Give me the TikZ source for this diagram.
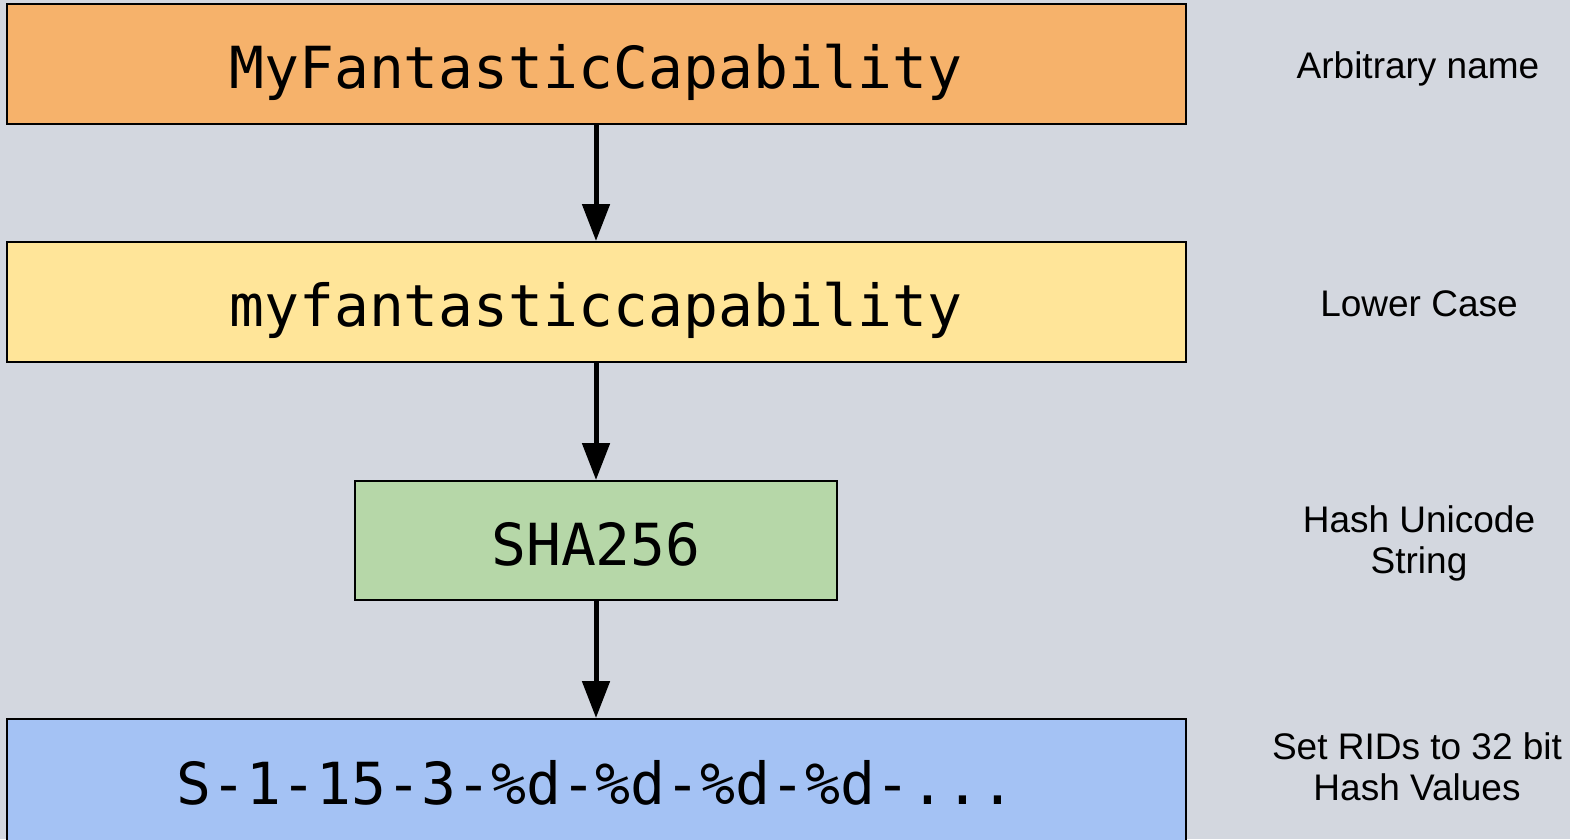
\documentclass[tikz,border=0pt]{standalone}
\usepackage{fontspec}
\setmainfont{Liberation Sans}
\newfontfamily\monofnt{DejaVu Sans Mono}
\usetikzlibrary{arrows.meta}
\definecolor{bgc}{RGB}{211,215,223}
\definecolor{orangec}{HTML}{F6B26B}
\definecolor{yellowc}{HTML}{FFE599}
\definecolor{greenc}{HTML}{B6D7A8}
\definecolor{bluec}{HTML}{A4C2F4}
\tikzset{
  box/.style={draw=black, line width=2pt, rectangle, inner sep=0pt,
    text height=49pt, text depth=0pt, font=\monofnt\fontsize{58}{58}\selectfont},
  lbl/.style={align=center, inner sep=0pt, anchor=base,
    font=\fontsize{37}{41}\selectfont},
  flow/.style={line width=5pt, -{Triangle[length=37pt,width=27pt]}}
}
\begin{document}
\begin{tikzpicture}[x=1pt,y=-1pt]
\useasboundingbox (0,0) rectangle (1570,839);
\clip (0,0) rectangle (1570,839);
\fill[bgc] (0,0) rectangle (1570,839);
\node[box, fill=orangec, minimum width=1179pt, minimum height=120pt] (n1) at (596,64) {MyFantasticCapability};
\node[box, fill=yellowc, minimum width=1179pt, minimum height=120pt] (n2) at (596,302) {myfantasticcapability};
\node[box, fill=greenc, minimum width=482pt, minimum height=119pt] (n3) at (596,540.5) {SHA256};
\node[box, fill=bluec, minimum width=1179pt, minimum height=122pt] (n4) at (596,780) {S-1-15-3-\%d-\%d-\%d-\%d-...};
\draw[flow] (n1.south) -- (n2.north);
\draw[flow] (n2.south) -- (n3.north);
\draw[flow] (n3.south) -- (n4.north);
\node[lbl] (l1) at (1418,78) {Arbitrary name};
\node[lbl] (l2) at (1419,316) {Lower Case};
\node[lbl] (l3) at (1419,573) {Hash Unicode\\String};
\node[lbl] (l4) at (1417,800) {Set RIDs to 32 bit\\Hash Values};
\end{tikzpicture}
\end{document}
